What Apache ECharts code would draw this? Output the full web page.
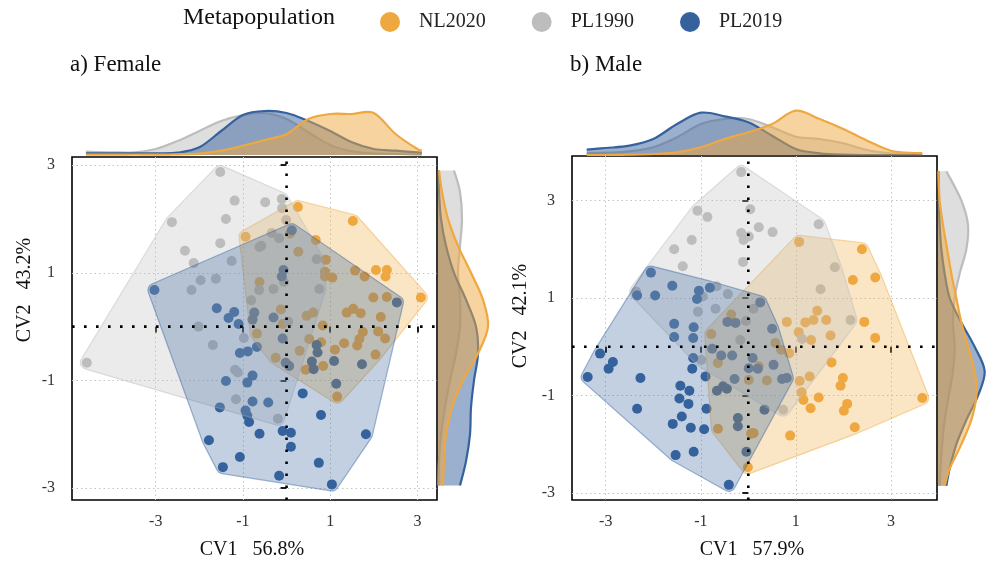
<!DOCTYPE html>
<html><head><meta charset="utf-8">
<script src="https://cdn.jsdelivr.net/npm/echarts@6/dist/echarts.min.js"></script>
<style>html,body{margin:0;padding:0;background:#fff}#c{width:988px;height:568px}</style>
</head><body><div id="c"></div>
<script>
const groups = ['NL2020','PL1990','PL2019'];
const colors = ['#EFA840','#BDBDBD','#35629D'];
const tickValues = [-3,-1,1,3];

// ---------- Female (panel a) ----------
const femaleNL2020 = [[-0.94,1.67],[0.26,2.22],[1.52,1.96],[0.08,1.73],[0.67,1.61],[0.27,1.39],[0.90,1.24],[0.88,1.02],[0.88,0.93],[1.05,0.91],[1.57,1.04],[1.79,0.93],[2.05,1.05],[2.30,1.05],[2.27,0.93],[3.08,0.54],[1.99,0.54],[2.30,0.55],[1.38,0.26],[1.53,0.33],[1.70,0.25],[2.16,0.18],[-0.62,0.83],[-0.13,0.32],[0.46,0.20],[0.61,0.26],[-0.09,0.05],[0.83,0.02],[0.79,-0.29],[0.52,-0.23],[0.84,-0.73],[0.44,-0.80],[1.11,-0.43],[1.32,-0.31],[1.62,-0.35],[1.67,-0.23],[1.75,-0.10],[2.10,-0.09],[2.26,-0.22],[2.04,-0.52],[-0.25,-0.58],[-0.68,-0.13],[1.16,-1.30],[0.30,-0.45]];
const femalePL1990 = [[-1.52,2.87],[-1.19,2.34],[-1.39,2.00],[-2.63,1.94],[-1.52,1.55],[-2.33,1.41],[-1.26,1.22],[-2.13,1.18],[-1.97,0.86],[-1.62,0.89],[-2.18,0.68],[-2.02,0.0],[-0.81,0.49],[-0.62,1.48],[-0.49,2.31],[-0.11,2.37],[-0.10,2.20],[-0.01,1.98],[-0.34,1.74],[-0.17,1.64],[-0.58,1.50],[0.69,1.25],[-0.06,0.83],[-0.63,0.68],[-0.30,0.70],[0.75,0.70],[0.04,0.09],[-4.58,-0.67],[-1.69,-0.34],[-0.98,-0.21],[-1.18,-0.80],[-1.12,-0.85],[-1.16,-1.35],[-0.20,-1.71]];
const femalePL2019 = [[-3.03,0.68],[-1.60,0.34],[-1.20,0.27],[-1.33,0.16],[-1.10,0.05],[-0.74,0.26],[-0.78,0.13],[-0.30,0.17],[0.12,1.79],[-0.07,1.05],[-0.11,0.93],[2.53,0.45],[-1.07,-0.49],[-0.89,-0.46],[-0.68,-0.38],[-0.78,-0.91],[-0.90,-1.04],[-1.39,-1.01],[-0.78,-1.39],[-1.53,-1.50],[-0.94,-1.56],[-0.90,-1.65],[-0.86,-1.77],[-1.78,-2.11],[-1.07,-2.42],[-1.46,-2.61],[-0.62,-1.99],[0.37,-1.24],[0.79,-1.64],[-0.09,-1.94],[0.10,-1.97],[0.10,-2.23],[1.82,-2.00],[0.74,-2.53],[-0.17,-2.77],[1.04,-2.93],[-0.42,-1.41],[1.09,-0.64],[1.14,-1.06],[1.73,-0.70],[0.69,-0.34],[0.71,-0.48],[0.58,-0.65],[0.62,-0.79],[-0.02,-0.67],[0.06,-0.73],[-0.09,-0.22]];

const femaleTopX = [-4.6,-4,-3.5,-3,-2.5,-2,-1.5,-1,-0.5,0,0.5,1,1.5,2,2.5,3,3.1];
const femaleTopNL2020 = [0.3,0.3,0.5,0.3,0.7,1.3,4.3,9.3,15,21,36,41,41,42,21,6,5];
const femaleTopPL1990 = [3.3,2.7,2.7,6,14,24,34,40,42,36,22.7,10,3.7,1.7,1,0.3,0.3];
const femaleTopPL2019 = [1.7,1.7,1.7,1.7,2.3,7.7,24,40,44,42,34,24,12.7,6,4.3,2.7,2.3];

const femaleSideY = [2.9,2.5,2,1.5,1,0.5,0,-0.5,-1,-1.5,-2,-2.5,-2.95];
const femaleSideNL2020 = [1,4,10,20,33,45,50,40,25,14,8,6,5];
const femaleSidePL1990 = [16,22,24,22,20,22,22,18,12,7,3,1,0.5];
const femaleSidePL2019 = [0.5,1,3,8,16,28,38,40,36,33,32,28,22];

// ---------- Male (panel b) ----------
const maleNL2020 = [[1.07,2.15],[2.39,2.00],[2.20,1.37],[2.67,1.42],[1.45,0.74],[1.64,0.55],[1.37,0.55],[1.20,0.50],[2.44,0.51],[0.81,0.51],[3.66,-1.05],[2.67,0.18],[1.75,-0.32],[1.99,-0.64],[1.94,-0.80],[1.08,-0.70],[1.29,-0.61],[1.12,-0.93],[1.16,-1.09],[1.48,-1.04],[1.31,-1.26],[2.08,-1.17],[2.01,-1.31],[2.24,-1.65],[0.88,-1.82],[-0.01,-2.47],[1.73,0.23],[1.32,0.14],[1.06,0.30],[0.86,-0.13],[0.57,0.08],[0.69,-0.06],[0.22,-0.40],[0.39,-0.69],[0.01,-0.68],[0.08,-1.77],[-0.36,0.66],[-0.78,0.26],[-0.64,-0.33],[-0.64,-1.68],[0.06,-1.78],[0.11,-1.77]];
const malePL1990 = [[-0.15,3.58],[0.04,2.82],[-1.07,2.79],[-0.86,2.66],[-0.15,2.33],[-0.10,2.19],[0.01,2.26],[0.22,2.45],[0.51,2.35],[-1.19,2.19],[-1.56,2.00],[-0.11,1.74],[-1.38,1.65],[-2.36,1.13],[-0.67,1.24],[-0.96,1.03],[-0.43,1.08],[-1.06,0.72],[-0.69,0.78],[0.11,0.78],[-0.05,0.53],[1.48,2.51],[1.82,1.63],[1.52,1.18],[2.15,0.55],[-0.99,-0.27],[0.73,-1.29],[1.13,0.16],[-0.17,0.14]];
const malePL2019 = [[-2.05,1.52],[-2.34,1.05],[-1.96,1.05],[-1.60,1.25],[-1.04,1.15],[-1.08,0.98],[-0.81,1.21],[-1.56,0.47],[-1.15,0.40],[-0.44,0.51],[-0.27,0.49],[0.25,0.91],[-1.56,0.20],[-1.16,0.18],[-3.12,-0.14],[-2.85,-0.31],[-2.94,-0.45],[-3.38,-0.62],[-2.27,-0.64],[-1.16,-0.23],[-1.18,-0.45],[-0.90,-0.61],[-1.43,-0.80],[-1.24,-0.90],[-1.45,-1.06],[-1.26,-1.17],[-2.34,-1.27],[-0.88,-1.27],[-1.40,-1.43],[-1.59,-1.58],[-1.21,-1.66],[-0.93,-1.69],[-1.53,-2.22],[-1.15,-2.15],[-0.41,-2.83],[-0.76,-0.04],[-0.57,-0.18],[-0.34,-0.18],[-0.66,-0.90],[-0.53,-0.81],[-0.45,-0.86],[-0.29,-0.66],[-0.22,-1.46],[-0.22,-1.63],[-0.04,-2.15],[0.09,-0.23],[0.01,-0.44],[0.50,0.37],[0.53,-0.37],[0.20,-0.45],[0.34,-1.29],[0.71,-0.66],[0.81,-0.64]];

const maleTopX = [-3.4,-3,-2.5,-2,-1.5,-1,-0.5,0,0.5,1,1.5,2,2.5,3,3.5,3.66];
const maleTopNL2020 = [0,0,0.3,1,2.7,7.7,16,22.7,31,44.3,36,26,14.3,4.3,2,2];
const maleTopPL1990 = [1.7,2.3,3.7,7.7,17.7,31,36,36,27.7,18.3,16,11.7,5,1.7,0.3,0.3];
const maleTopPL2019 = [5.3,7,9.3,16,31,42.3,38.7,32.7,19.3,6,1.7,0.3,0,0,0,0];

const maleSideY = [3.6,3,2.5,2,1.5,1,0.5,0,-0.5,-1,-1.5,-2,-2.5,-2.85];
const maleSideNL2020 = [0.5,2,6,11,16,22,28,36,44,46,40,28,14,8];
const maleSidePL1990 = [10,28,36,34,26,20,18,20,18,13,8,5,3,2];
const maleSidePL2019 = [0.5,1,2,4,8,14,28,44,56,48,34,22,14,10];

// ---------- drawing helpers ----------
const FONT = 'Liberation Serif';
const rgba = (hex,a)=>{const n=parseInt(hex.slice(1),16);return 'rgba('+(n>>16)+','+((n>>8)&255)+','+(n&255)+','+a+')';};

function curveSegs(pts){
  let d='';
  for(let i=0;i<pts.length-1;i++){
    const p0=pts[i-1]||pts[i], p1=pts[i], p2=pts[i+1], p3=pts[i+2]||pts[i+1];
    const c1x=p1[0]+(p2[0]-p0[0])/6, c1y=p1[1]+(p2[1]-p0[1])/6;
    const c2x=p2[0]-(p3[0]-p1[0])/6, c2y=p2[1]-(p3[1]-p1[1])/6;
    d+=' C'+c1x.toFixed(2)+' '+c1y.toFixed(2)+' '+c2x.toFixed(2)+' '+c2y.toFixed(2)+' '+p2[0].toFixed(2)+' '+p2[1].toFixed(2);
  }
  return d;
}

function densitySeries(gi, xIdx, yIdx, samples, vals, vertical){
  const data = samples.map((s,i)=> vertical ? [vals[i], s] : [s, vals[i]]);
  const col = colors[gi];
  const zOrder = {1:1, 2:2, 0:3}[gi];
  return {
    type:'custom', name: groups[gi], xAxisIndex:xIdx, yAxisIndex:yIdx,
    data, silent:true, z: 2+zOrder, clip:false,
    renderItem(params, api){
      if(params.dataIndex!==0) return null;
      const pts = data.map(d=>api.coord(d));
      const first=data[0], last=data[data.length-1];
      const b0 = vertical? api.coord([0,first[1]]) : api.coord([first[0],0]);
      const bN = vertical? api.coord([0,last[1]]) : api.coord([last[0],0]);
      const start = 'M'+pts[0][0].toFixed(2)+' '+pts[0][1].toFixed(2);
      const segs = curveSegs(pts);
      const fillD = 'M'+b0[0]+' '+b0[1]+' L'+pts[0][0].toFixed(2)+' '+pts[0][1].toFixed(2)+segs+' L'+bN[0]+' '+bN[1]+' Z';
      return {type:'group', children:[
        {type:'path', shape:{pathData:fillD}, style:{fill:rgba(col,0.5), stroke:null}},
        {type:'path', shape:{pathData:start+segs}, style:{fill:null, stroke:col, lineWidth:2.2}}
      ]};
    }
  };
}

function hullPath(pts, r){
  const P = pts.slice().sort((a,b)=>a[0]-b[0]||a[1]-b[1]);
  const cross=(o,a,b)=>(a[0]-o[0])*(b[1]-o[1])-(a[1]-o[1])*(b[0]-o[0]);
  const lower=[]; for(const p of P){while(lower.length>=2&&cross(lower[lower.length-2],lower[lower.length-1],p)<=0)lower.pop();lower.push(p);}
  const upper=[]; for(let i=P.length-1;i>=0;i--){const p=P[i];while(upper.length>=2&&cross(upper[upper.length-2],upper[upper.length-1],p)<=0)upper.pop();upper.push(p);}
  upper.pop(); lower.pop();
  const H=lower.concat(upper);
  let S=0; for(let i=0;i<H.length;i++){const a=H[i],b=H[(i+1)%H.length];S+=a[0]*b[1]-b[0]*a[1];}
  if(S<0) H.reverse();
  const n=H.length, normals=[];
  for(let i=0;i<n;i++){const a=H[i],b=H[(i+1)%n];const dx=b[0]-a[0],dy=b[1]-a[1];const L=Math.hypot(dx,dy)||1;normals.push([dy/L,-dx/L]);}
  let d='';
  for(let i=0;i<n;i++){
    const p=H[i], np=normals[(i-1+n)%n], nc=normals[i];
    const s=[p[0]+r*np[0],p[1]+r*np[1]], e=[p[0]+r*nc[0],p[1]+r*nc[1]];
    d+=(i===0?'M':'L')+s[0].toFixed(2)+' '+s[1].toFixed(2)+' A'+r+' '+r+' 0 0 1 '+e[0].toFixed(2)+' '+e[1].toFixed(2)+' ';
  }
  return d+'Z';
}

function hullSeries(gi, axIdx, data){
  const col = colors[gi];
  return {
    type:'custom', name:groups[gi], xAxisIndex:axIdx, yAxisIndex:axIdx,
    data, silent:true, z:3+gi, clip:false,
    renderItem(params, api){
      if(params.dataIndex!==0) return null;
      const px = data.map(d=>api.coord(d));
      return {type:'path', shape:{pathData:hullPath(px, 6.5)},
        style:{fill:rgba(col,0.3), stroke:rgba(col,0.45), lineWidth:1.2}};
    }
  };
}

function scatterSeries(gi, axIdx, data){
  return {type:'scatter', name:groups[gi], xAxisIndex:axIdx, yAxisIndex:axIdx, data,
    symbolSize:10, itemStyle:{color:colors[gi], opacity:1}, z:2, silent:true};
}

function zeroLines(axIdx, xmin, xmax, ymin, ymax){
  const ls = {color:'#000', width:2.6, type:[2.6,9.4], cap:'butt'};
  return [
    {type:'line', xAxisIndex:axIdx, yAxisIndex:axIdx, data:[[0,ymin],[0,ymax]], symbol:'none', lineStyle:ls, z:10, silent:true},
    {type:'line', xAxisIndex:axIdx, yAxisIndex:axIdx, data:[[xmin,0],[xmax,0]], symbol:'none', lineStyle:ls, z:10, silent:true}
  ];
}

function mainAxis(grid, min, max, margin){
  return {type:'value', gridIndex:grid, min, max,
    axisLine:{show:false},
    axisTick:{show:true, customValues:tickValues, length:6, lineStyle:{color:'#000', width:1.8}},
    axisLabel:{customValues:tickValues, fontFamily:FONT, fontSize:16, color:'#333', margin},
    splitLine:{show:true, lineStyle:{color:'#C4C4C4', width:1, type:[1.5,3]}}
  };
}
const hidden = (grid,min,max)=>({type:'value', gridIndex:grid, min, max, show:false, splitLine:{show:false}});

const A = {xmin:-4.92, xmax:3.45, ymin:-3.22, ymax:3.15};
const B = {xmin:-3.71, xmax:3.97, ymin:-3.14, ymax:3.91};

const grids = [
  {left:72, top:157, width:365, height:343, show:true, borderColor:'#000', borderWidth:1.6},
  {left:72, top:105, width:365, height:50},
  {left:438, top:157, width:60, height:343},
  {left:572, top:156, width:365, height:344, show:true, borderColor:'#000', borderWidth:1.6},
  {left:572, top:105, width:365, height:50},
  {left:938, top:156, width:60, height:344}
];
const xAxes = [mainAxis(0,A.xmin,A.xmax,14), hidden(1,A.xmin,A.xmax), hidden(2,0,60),
               mainAxis(3,B.xmin,B.xmax,14), hidden(4,B.xmin,B.xmax), hidden(5,0,60)];
const yAxes = [mainAxis(0,A.ymin,A.ymax,17), hidden(1,0,50), hidden(2,A.ymin,A.ymax),
               mainAxis(3,B.ymin,B.ymax,17), hidden(4,0,50), hidden(5,B.ymin,B.ymax)];

const female = [femaleNL2020, femalePL1990, femalePL2019];
const male = [maleNL2020, malePL1990, malePL2019];
const fTop = [femaleTopNL2020, femaleTopPL1990, femaleTopPL2019];
const fSide = [femaleSideNL2020, femaleSidePL1990, femaleSidePL2019];
const mTop = [maleTopNL2020, maleTopPL1990, maleTopPL2019];
const mSide = [maleSideNL2020, maleSidePL1990, maleSidePL2019];

const series = [];
for(let g=0; g<3; g++){
  series.push(scatterSeries(g,0,female[g]));
  series.push(scatterSeries(g,3,male[g]));
}
for(let g=0; g<3; g++){
  series.push(hullSeries(g,0,female[g]));
  series.push(hullSeries(g,3,male[g]));
  series.push(densitySeries(g,1,1,femaleTopX,fTop[g],false));
  series.push(densitySeries(g,2,2,femaleSideY,fSide[g],true));
  series.push(densitySeries(g,4,4,maleTopX,mTop[g],false));
  series.push(densitySeries(g,5,5,maleSideY,mSide[g],true));
}
series.push(...zeroLines(0,A.xmin,A.xmax,A.ymin,A.ymax));
series.push(...zeroLines(3,B.xmin,B.xmax,B.ymin,B.ymax));

const txt = (text, x, y, size)=>({type:'text', x, y, style:{text, fontFamily:FONT, fontSize:size, fill:'#111', align:'left', verticalAlign:'middle'}});
const ctxt = (text, x, y, rot)=>({type:'text', x, y, rotation:rot||0, style:{text, fontFamily:FONT, fontSize:20, fill:'#111', align:'center', verticalAlign:'middle'}});

const option = {
  animation:false,
  backgroundColor:'#fff',
  grid: grids, xAxis: xAxes, yAxis: yAxes,
  legend:{
    data: groups.map((g,i)=>({name:g, icon:'circle', itemStyle:{color:colors[i]}})),
    left:375, top:7, itemWidth:20, itemHeight:20, itemGap:46, selectedMode:false,
    textStyle:{fontFamily:FONT, fontSize:20, color:'#222', padding:[0,0,0,14]}
  },
  graphic:[
    txt('Metapopulation', 183, 18, 24),
    txt('a) Female', 70, 65, 23),
    txt('b) Male', 570, 65, 23),
    ctxt('CV1   56.8%', 252, 550),
    ctxt('CV1   57.9%', 752, 550),
    ctxt('CV2   43.2%', 25, 290, Math.PI/2),
    ctxt('CV2   42.1%', 521, 316, Math.PI/2)
  ],
  series
};
const chart = echarts.init(document.getElementById('c'));
chart.setOption(option);
</script></body></html>
